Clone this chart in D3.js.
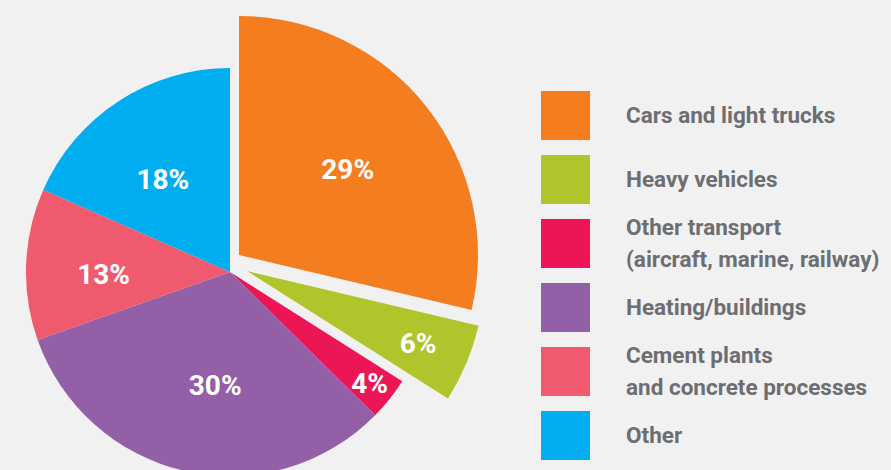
<!DOCTYPE html>
<html><head><meta charset="utf-8">
<script src="https://cdn.jsdelivr.net/npm/d3@7"></script>
<style>
html,body{margin:0;padding:0;background:#f1f1f1;overflow:hidden;}
svg{display:block;}
</style></head>
<body>
<script>
// Data
const categories = ["Cars and light trucks", "Heavy vehicles", "Other transport\n(aircraft, marine, railway)", "Heating/buildings", "Cement plants\nand concrete processes", "Other"];
const shares = [28.7, 5.3, 3.4, 32.2, 12.0, 18.4]; // slice sizes as drawn in the picture
const valueLabels = ["29%", "6%", "4%", "30%", "13%", "18%"];
const colors = ["#f47d20", "#b0c42b", "#ec1556", "#9360a8", "#f05a6e", "#00aeef"];

// Layout / style
const W = 891, H = 470;
const cx = 230, cy = 272, R = 204;
const explode = {0: {dx: 9, dy: -17, r: 239}, 1: {dx: 17, dy: -1, r: 238}};
const labelFrac = [0.58, 0.78, 0.875, 0.56, 0.62, 0.56];
const labelAngleShift = [0, 0, 0, -0.09, -0.06, -0.05];

const svg = d3.select("body").append("svg").attr("width", W).attr("height", H);
svg.append("rect").attr("width", W).attr("height", H).attr("fill", "#f1f1f1");

const pie = d3.pie().sort(null).value(d => d)(shares);

const g = svg.append("g");
pie.forEach((p, i) => {
  const ex = explode[i] || {dx: 0, dy: 0, r: R};
  const arc = d3.arc().innerRadius(0).outerRadius(ex.r);
  const sg = g.append("g").attr("transform", `translate(${cx + ex.dx},${cy + ex.dy})`);
  sg.append("path").attr("d", arc(p)).attr("fill", colors[i]);
});
pie.forEach((p, i) => {
  const ex = explode[i] || {dx: 0, dy: 0, r: R};
  const a = (p.startAngle + p.endAngle) / 2 + labelAngleShift[i];
  const rr = ex.r * labelFrac[i];
  g.append("text")
    .attr("x", cx + ex.dx + rr * Math.sin(a))
    .attr("y", cy + ex.dy - rr * Math.cos(a))
    .attr("text-anchor", "middle").attr("dominant-baseline", "central")
    .attr("fill", "#fff").attr("font-family", "Roboto, sans-serif")
    .attr("font-weight", 700).attr("font-size", 28)
    .text(valueLabels[i]);
});

// Legend
const legendY = d3.scaleBand().domain(d3.range(categories.length)).range([91, 91 + 64 * 6]).paddingInner(0);
const lg = svg.append("g");
categories.forEach((c, i) => {
  const y0 = legendY(i);
  lg.append("rect").attr("x", 541).attr("y", y0).attr("width", 49).attr("height", 49).attr("fill", colors[i]);
  const lines = c.split("\n");
  const t = lg.append("text").attr("x", 626).attr("fill", "#6d6e71")
    .attr("font-family", "Roboto, sans-serif").attr("font-weight", 700).attr("font-size", 22.5);
  const base = lines.length === 1 ? y0 + 32 : y0 + 16;
  lines.forEach((l, k) => {
    t.append("tspan").attr("x", 626).attr("y", base + k * 31.5).text(l);
  });
});
</script>
</body></html>
